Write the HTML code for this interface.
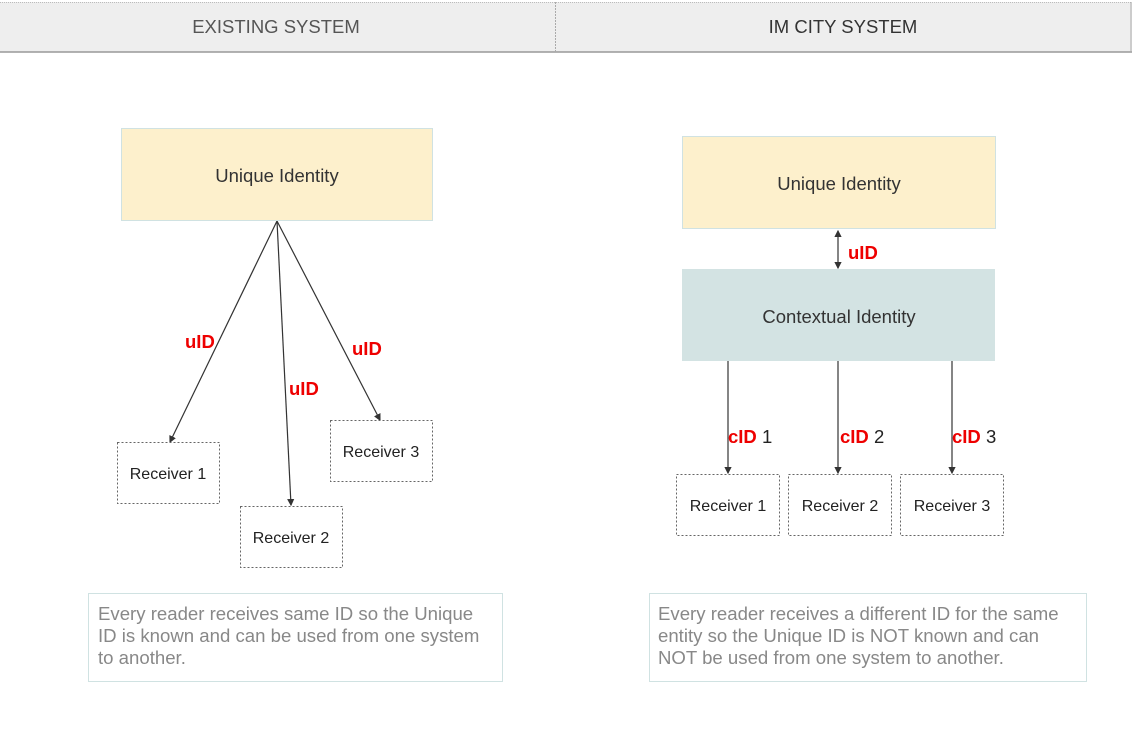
<!DOCTYPE html>
<html><head><style>
body{margin:0;background:#fff;font-family:"Liberation Sans",sans-serif;}
</style></head><body>
<svg width="1132" height="750" xmlns="http://www.w3.org/2000/svg" font-family="Liberation Sans, sans-serif">
<defs><marker id="a" markerWidth="6" markerHeight="6" refX="5" refY="3" orient="auto"><path d="M0,0 L6,3 L0,6z" fill="#333"/></marker>
<marker id="b" markerWidth="6" markerHeight="6" refX="1" refY="3" orient="auto"><path d="M6,0 L0,3 L6,6z" fill="#333"/></marker></defs>
<rect x="0" y="2" width="1132" height="50" fill="#eeeeee"/>
<line x1="0" y1="2.5" x2="1132" y2="2.5" stroke="#bbb" stroke-dasharray="1,1"/>
<line x1="0" y1="52" x2="1132" y2="52" stroke="#999" stroke-width="1.5"/>
<line x1="555.5" y1="2" x2="555.5" y2="52" stroke="#aaa" stroke-dasharray="2,1"/>
<line x1="1131" y1="2" x2="1131" y2="52" stroke="#aaa"/>
<text x="276" y="33" text-anchor="middle" font-size="18.5" fill="#555">EXISTING SYSTEM</text>
<text x="843" y="33" text-anchor="middle" font-size="18.5" fill="#333">IM CITY  SYSTEM</text>
<g stroke="#333" stroke-width="1.2" fill="none">
<path d="M277,221 L170,442" marker-end="url(#a)"/>
<path d="M277,221 L291,505" marker-end="url(#a)"/>
<path d="M277,221 L380,420" marker-end="url(#a)"/>
<path d="M838,231 L838,268" marker-end="url(#a)" marker-start="url(#b)"/>
<path d="M728,361 L728,473" marker-end="url(#a)"/>
<path d="M838,361 L838,473" marker-end="url(#a)"/>
<path d="M952,361 L952,473" marker-end="url(#a)"/>
</g>
<rect x="121.5" y="128.5" width="311" height="92" fill="#fdf0cc" stroke="#d0e2e2"/>
<text x="277" y="182" text-anchor="middle" font-size="18.5" fill="#333">Unique Identity</text>
<rect x="682.5" y="136.5" width="313" height="92" fill="#fdf0cc" stroke="#d0e2e2"/>
<text x="839" y="190" text-anchor="middle" font-size="18.5" fill="#333">Unique Identity</text>
<rect x="682" y="269" width="313" height="92" fill="#d3e3e3"/>
<text x="839" y="323" text-anchor="middle" font-size="18.5" fill="#333">Contextual Identity</text>
<g fill="#fff" stroke="#666" stroke-dasharray="2,2">
<rect x="117.5" y="442.5" width="102" height="61"/>
<rect x="240.5" y="506.5" width="102" height="61"/>
<rect x="330.5" y="420.5" width="102" height="61"/>
<rect x="676.5" y="474.5" width="103" height="61"/>
<rect x="788.5" y="474.5" width="103" height="61"/>
<rect x="900.5" y="474.5" width="103" height="61"/>
</g>
<g font-size="16" fill="#222" text-anchor="middle">
<text x="168" y="479">Receiver 1</text>
<text x="291" y="543">Receiver 2</text>
<text x="381" y="457">Receiver 3</text>
<text x="728" y="511">Receiver 1</text>
<text x="840" y="511">Receiver 2</text>
<text x="952" y="511">Receiver 3</text>
</g>
<g font-size="18.5" font-weight="bold" fill="#e00">
<text x="185" y="348">uID</text>
<text x="289" y="395">uID</text>
<text x="352" y="355">uID</text>
<text x="848" y="259">uID</text>
<text x="728" y="443">cID <tspan fill="#222" font-weight="normal">1</tspan></text>
<text x="840" y="443">cID <tspan fill="#222" font-weight="normal">2</tspan></text>
<text x="952" y="443">cID <tspan fill="#222" font-weight="normal">3</tspan></text>
</g>
<rect x="88.5" y="593.5" width="414" height="88" fill="#fff" stroke="#d0e2e2"/>
<rect x="649.5" y="593.5" width="437" height="88" fill="#fff" stroke="#d0e2e2"/>
<g font-size="18.6" fill="#888">
<text x="98" y="620">Every reader receives same ID so the Unique</text>
<text x="98" y="642">ID is known and can be used from one system</text>
<text x="98" y="664">to another.</text>
<text x="658" y="620">Every reader receives a different ID for the same</text>
<text x="658" y="642">entity so the Unique ID is NOT known and can</text>
<text x="658" y="664">NOT be used from one system to another.</text>
</g>
</svg>
</body></html>
